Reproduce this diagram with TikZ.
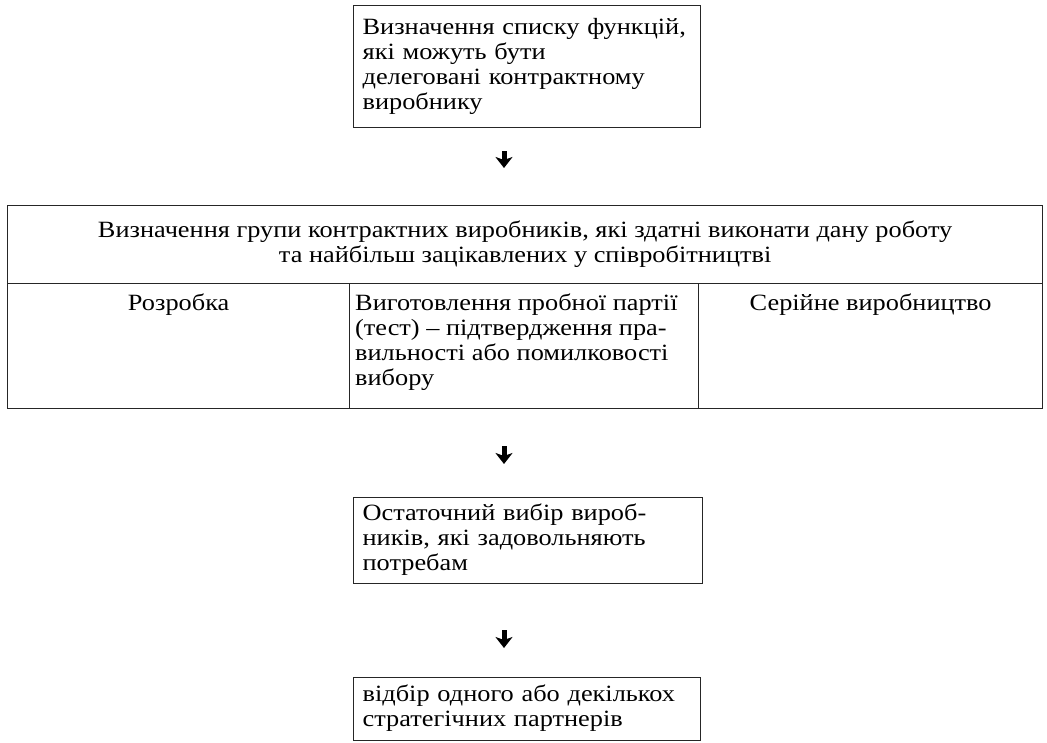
\documentclass[tikz,border=0pt]{standalone}
\usepackage{fontspec}
\setmainfont[FakeStretch=1.13]{Liberation Serif}
\usetikzlibrary{calc,arrows.meta}
\begin{document}
\begin{tikzpicture}[x=1pt,y=-1pt,
  box/.style={draw=black!85,line width=1.3pt,rectangle,inner sep=0pt,anchor=north west,
    font=\fontsize{23.3}{25}\selectfont},
  tbox/.style={box,align=left,inner xsep=9pt},
  txt/.style={font=\fontsize{23.3}{25}\selectfont,inner sep=0pt},
  flow/.style={line width=5pt,-{Stealth[width=17pt,length=11pt,inset=3pt]}}]
\useasboundingbox (0,0) rectangle (1047,742);

% first step
\node[tbox,text width=329pt,minimum height=122pt] (b1) at (353,5)
  {\strut Визначення списку функцій,\\ які можуть бути\\ делеговані контрактному\\ виробнику\strut};

% table: header row and three stages
\node[box,align=center,minimum width=1035pt,minimum height=78pt] (hd) at (7,205)
  {\strut Визначення групи контрактних виробників, які здатні виконати дану роботу\\
   та найбільш зацікавлених у співробітництві\strut};
\node[box,minimum width=342pt,minimum height=125pt] (c1) at (7,283) {};
\node[box,minimum width=349pt,minimum height=125pt] (c2) at (349,283) {};
\node[box,minimum width=344pt,minimum height=125pt] (c3) at (698,283) {};
\node[txt,anchor=north] (c1t) at ($(c1.north)+(0,9.5)$) {\strut Розробка};
\node[txt,anchor=north west,align=left] (c2t) at ($(c2.north west)+(6,9.5)$)
  {\strut Виготовлення пробної партії\\ (тест) – підтвердження пра-\\ вильності або помилковості\\ вибору\strut};
\node[txt,anchor=north] (c3t) at ($(c3.north)+(0,9.5)$) {\strut Серійне виробництво};

% final selection
\node[tbox,text width=331pt,minimum height=86pt] (b3) at (353,497)
  {\strut Остаточний вибір вироб-\\ ників, які задовольняють\\ потребам\strut};
\node[tbox,text width=329pt,minimum height=63pt] (b4) at (353,677)
  {\strut відбір одного або декількох\\ стратегічних партнерів\strut};

% arrows between the steps
\coordinate (a1s) at (504,151); \coordinate (a1e) at (504,168);
\coordinate (a2s) at (504,446); \coordinate (a2e) at (504,464);
\coordinate (a3s) at (504,630); \coordinate (a3e) at (504,648);
\draw[flow] (a1s) -- (a1e);
\draw[flow] (a2s) -- (a2e);
\draw[flow] (a3s) -- (a3e);
\end{tikzpicture}
\end{document}
